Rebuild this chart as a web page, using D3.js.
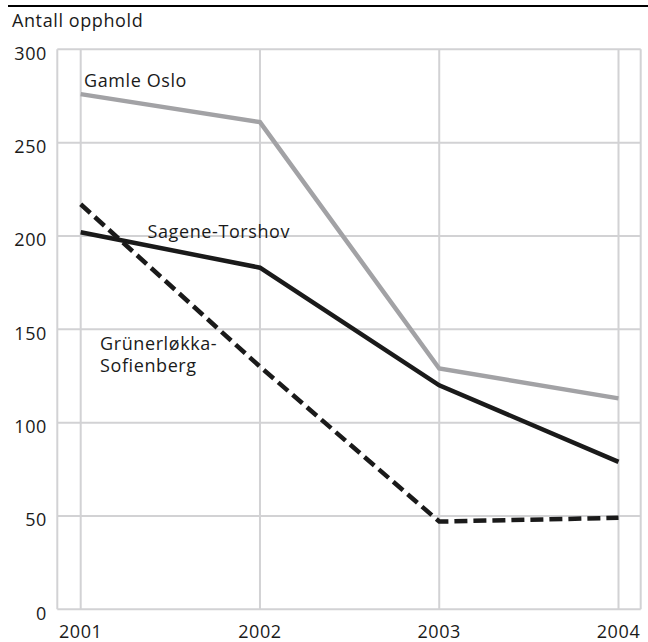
<!DOCTYPE html>
<html><head><meta charset="utf-8">
<script src="https://cdn.jsdelivr.net/npm/d3@7"></script>
<style>body{margin:0;background:#fff;}svg{display:block;font-family:"Open Sans","Noto Sans",sans-serif;}text{letter-spacing:0.6px;}</style>
</head><body><svg id="c" width="648" height="642"></svg>
<script>
const years = [2001, 2002, 2003, 2004];
const yTicks = [0, 50, 100, 150, 200, 250, 300];
const gamleOslo = [276, 261, 129, 113];
const sageneTorshov = [202, 183, 120, 79];
const grunerlokka = [217, 130, 47, 49];
const seriesNames = ["Gamle Oslo", "Sagene-Torshov", "Grünerløkka-Sofienberg"];

(function () {
const svg = d3.select("#c");
const pL = 57.3, pR = 640.7, pT = 49.3, pB = 609.3;
const x = d3.scaleLinear().domain([2001, 2004]).range([80.7, 618.5]);
const y = d3.scaleLinear().domain([0, 300]).range([pB, pT]);
const grid = "#d2d2d4";
const fs = 18, tc = "#1a1a1a";

// top rule
svg.append("line").attr("x1", 8).attr("x2", 648).attr("y1", 6).attr("y2", 6)
  .attr("stroke", "#000").attr("stroke-width", 2);

svg.append("text").attr("x", 12).attr("y", 27).attr("font-size", fs).attr("fill", tc).text("Antall opphold");

// frame
svg.append("line").attr("x1", pL).attr("x2", pL).attr("y1", pT).attr("y2", pB).attr("stroke", grid).attr("stroke-width", 2);
svg.append("line").attr("x1", pR).attr("x2", pR).attr("y1", pT).attr("y2", pB).attr("stroke", grid).attr("stroke-width", 2);

// horizontal grid
svg.selectAll(".hg").data(yTicks).enter().append("line")
  .attr("x1", pL).attr("x2", pR).attr("y1", d => y(d)).attr("y2", d => y(d))
  .attr("stroke", grid).attr("stroke-width", 2);
// vertical grid
svg.selectAll(".vg").data(years).enter().append("line")
  .attr("x1", d => x(d)).attr("x2", d => x(d)).attr("y1", pT).attr("y2", pB)
  .attr("stroke", grid).attr("stroke-width", 2);

// y labels
svg.selectAll(".yl").data(yTicks).enter().append("text")
  .attr("x", 47).attr("y", d => y(d) + 10.5).attr("text-anchor", "end")
  .attr("font-size", fs).attr("fill", tc).text(d => d);
// x labels
svg.selectAll(".xl").data(years).enter().append("text")
  .attr("x", d => x(d)).attr("y", 638).attr("text-anchor", "middle")
  .attr("font-size", fs).attr("fill", tc).text(d => d);

const line = d3.line().x((d, i) => x(years[i])).y(d => y(d));

svg.append("path").datum(gamleOslo).attr("d", line).attr("fill", "none")
  .attr("stroke", "#a2a2a5").attr("stroke-width", 4.5);
svg.append("path").datum(sageneTorshov).attr("d", line).attr("fill", "none")
  .attr("stroke", tc).attr("stroke-width", 4.5);
svg.append("path").datum(grunerlokka).attr("d", line).attr("fill", "none")
  .attr("stroke", tc).attr("stroke-width", 4.5).attr("stroke-dasharray", "13,6");

svg.append("text").attr("x", 84).attr("y", 86.5).attr("font-size", fs).attr("fill", tc).text(seriesNames[0]);
svg.append("text").attr("x", 147.5).attr("y", 237.7).attr("font-size", fs).attr("fill", tc).text(seriesNames[1]);
const t = svg.append("text").attr("x", 100).attr("y", 350).attr("font-size", fs).attr("fill", tc);
t.append("tspan").attr("x", 100).text("Grünerløkka-");
t.append("tspan").attr("x", 100).attr("dy", 22).text("Sofienberg");
})();
</script></body></html>
